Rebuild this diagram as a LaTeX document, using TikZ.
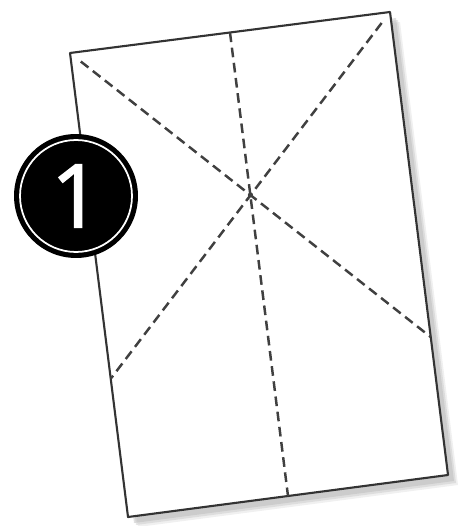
\documentclass[tikz,border=0pt]{standalone}
\usepackage{fontspec}
\newfontfamily\badgefont[FakeBold=1.6]{Open Sans}
\usetikzlibrary{calc}
\definecolor{paperline}{HTML}{333333}
\definecolor{foldline}{HTML}{404040}

\begin{document}
\begin{tikzpicture}[
    x=0.02cm, y=-0.02cm,
    sheet/.style={draw=paperline, line width=1.2pt, fill=white, line join=round},
    fold/.style={foldline, line width=1.4pt, dash pattern=on 5.5pt off 3.2pt},
    badge/.style={circle, fill=black, minimum size=2.48cm, inner sep=0pt,
        font=\badgefont\fontsize{50}{50}\selectfont, text=white},
]
\useasboundingbox (0,0) rectangle (459,526);

% === CORNERS OF THE SHEET ===
\coordinate (tl) at (70,53);
\coordinate (tr) at (390,12);
\coordinate (br) at (448,475);
\coordinate (bl) at (128,517);

% === SHADOW ===
\foreach \s/\o in {10/0.2, 8/0.3, 6/0.4}{
    \fill[black!30, opacity=\o] ($(tl)+(\s,\s)$) -- ($(tr)+(\s,\s)$) -- ($(br)+(\s,\s)$) -- ($(bl)+(\s,\s)$) -- cycle;
}

% === SHEET ===
\draw[sheet] (tl) -- (tr) -- (br) -- (bl) -- cycle;

% === FOLD LINES ===
\coordinate (tm) at ($(tl)!0.5!(tr)$);
\coordinate (bm) at ($(bl)!0.5!(br)$);
\coordinate (lsq) at ($(tl)!0.702!(bl)$);
\coordinate (rsq) at ($(tr)!0.702!(br)$);
\draw[fold] (tm) -- (bm);
\draw[fold] ($(tl)!0.03!(rsq)$) -- (rsq);
\draw[fold] ($(tr)!0.03!(lsq)$) -- (lsq);
\fill[foldline] ($(tl)!0.5!(rsq)$) circle (2.5);

% === BADGE ===
\node[badge] (one) at (76,196) {\raisebox{-0.06cm}{1}};
\draw[white, line width=1pt] (one.center) circle (1.12cm);

\end{tikzpicture}
\end{document}
